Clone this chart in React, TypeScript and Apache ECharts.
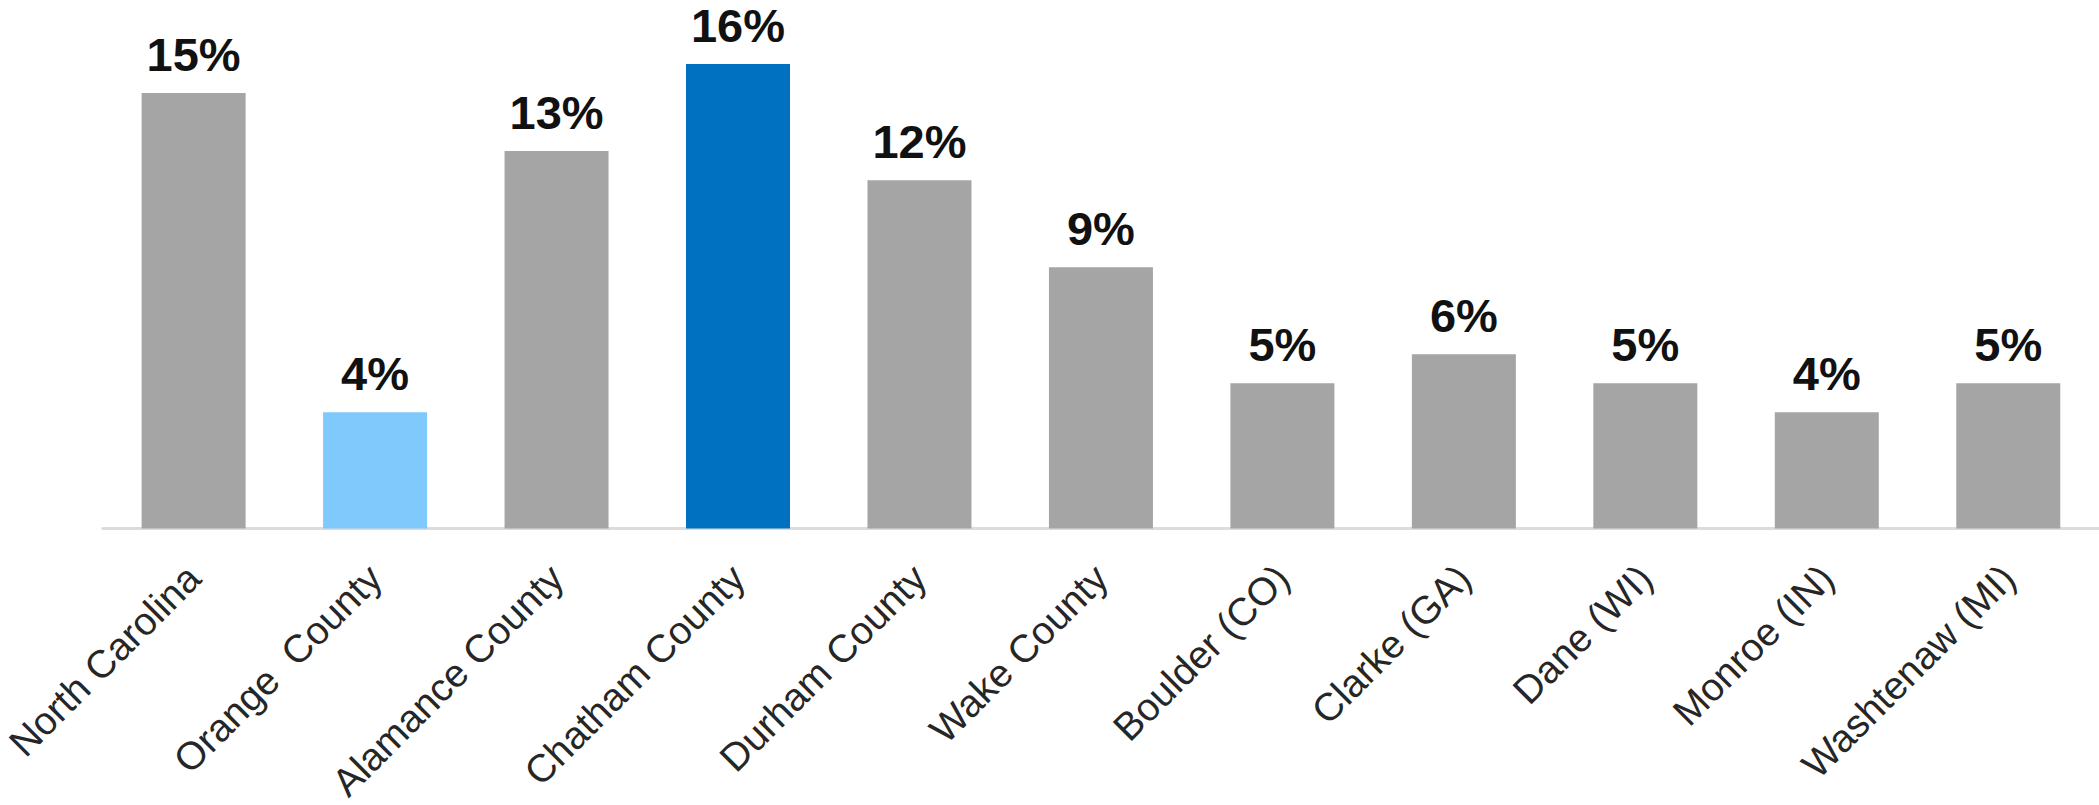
import React, { useEffect, useRef } from "react";
import * as echarts from "echarts";

const categories = [
  "North Carolina",
  "Orange  County",
  "Alamance County",
  "Chatham County",
  "Durham County",
  "Wake County",
  "Boulder (CO)",
  "Clarke (GA)",
  "Dane (WI)",
  "Monroe (IN)",
  "Washtenaw (MI)",
];

const values = [15, 4, 13, 16, 12, 9, 5, 6, 5, 4, 5];

const barColors = [
  "#A5A5A5",
  "#7FC9FC",
  "#A5A5A5",
  "#0070C0",
  "#A5A5A5",
  "#A5A5A5",
  "#A5A5A5",
  "#A5A5A5",
  "#A5A5A5",
  "#A5A5A5",
  "#A5A5A5",
];

export default function App() {
  const ref = useRef<HTMLDivElement>(null);

  useEffect(() => {
    if (!ref.current) return;
    const chart = echarts.init(ref.current, undefined, { renderer: "svg" });
    chart.setOption({
      animation: false,
      backgroundColor: "#ffffff",
      grid: { left: 101, right: 0, top: 6, bottom: 273, containLabel: false },
      xAxis: {
        type: "category",
        data: categories,
        axisLine: { show: true, lineStyle: { color: "#DCDCDC", width: 3 } },
        axisTick: { show: false },
        axisLabel: {
          interval: 0,
          rotate: 45,
          margin: 43,
          fontSize: 39,
          color: "#262626",
          fontFamily: "Liberation Sans, Arial, sans-serif",
        },
      },
      yAxis: {
        type: "value",
        min: 0,
        max: 18,
        show: false,
        splitLine: { show: false },
      },
      series: [
        {
          type: "bar",
          barWidth: 104,
          data: values.map((v, i) => ({
            value: v,
            itemStyle: { color: barColors[i] },
          })),
          label: {
            show: true,
            position: "top",
            distance: 15,
            formatter: "{c}%",
            fontSize: 47,
            fontWeight: "bold",
            color: "#111111",
            fontFamily: "Liberation Sans, Arial, sans-serif",
          },
        },
      ],
    });
    return () => chart.dispose();
  }, []);

  return (
    <div
      ref={ref}
      style={{ position: "fixed", left: 0, top: 0, width: 2099, height: 805 }}
    />
  );
}
